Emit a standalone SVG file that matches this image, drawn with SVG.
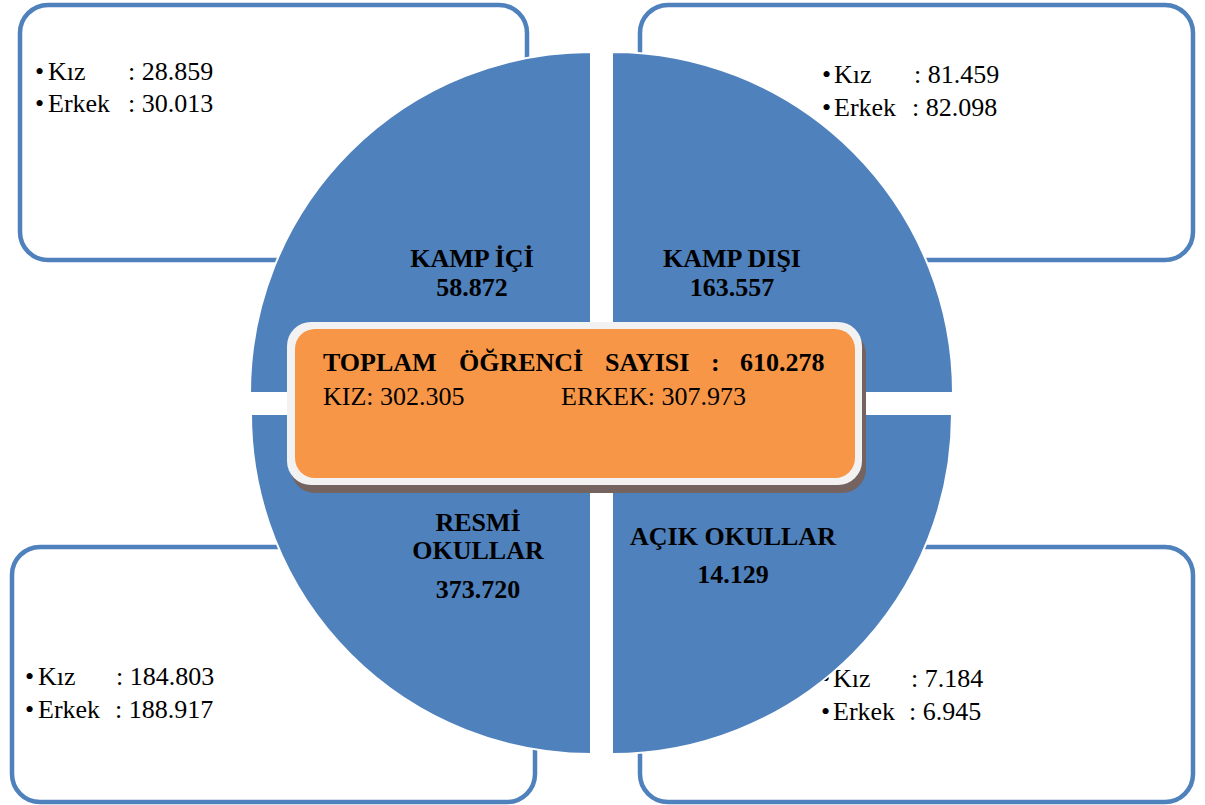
<svg xmlns="http://www.w3.org/2000/svg" width="1205" height="805" viewBox="0 0 1205 805">
<style>
.box{fill:#fff;stroke:#4F81BD;stroke-width:4.5}
.q{fill:#4F81BD;stroke:#fff;stroke-width:2}
.t{font-family:"Liberation Serif","Times New Roman",serif;font-size:26px;fill:#000}
.b{font-family:"Liberation Serif","Times New Roman",serif;font-size:26px;font-weight:bold;fill:#000;text-anchor:middle}
.c{font-family:"Liberation Serif","Times New Roman",serif;font-size:26px;fill:#000}
</style>
<rect width="1205" height="805" fill="#fff"/>
<g id="box-tl">
<rect class="box" x="20" y="5" width="507" height="255" rx="28"/>
<text class="t" y="80"><tspan x="35">•</tspan><tspan x="48">Kız</tspan><tspan x="128">: 28.859</tspan></text>
<text class="t" y="112"><tspan x="35">•</tspan><tspan x="48">Erkek</tspan><tspan x="128">: 30.013</tspan></text>
</g>
<g id="box-tr">
<rect class="box" x="640" y="5" width="553" height="255" rx="28"/>
<text class="t" y="83"><tspan x="822">•</tspan><tspan x="834">Kız</tspan><tspan x="914">: 81.459</tspan></text>
<text class="t" y="116"><tspan x="822">•</tspan><tspan x="834">Erkek</tspan><tspan x="912">: 82.098</tspan></text>
</g>
<g id="box-bl">
<rect class="box" x="12" y="547" width="523" height="255" rx="28"/>
<text class="t" y="685"><tspan x="25">•</tspan><tspan x="38">Kız</tspan><tspan x="116">: 184.803</tspan></text>
<text class="t" y="718"><tspan x="25">•</tspan><tspan x="38">Erkek</tspan><tspan x="115">: 188.917</tspan></text>
</g>
<g id="box-br">
<rect class="box" x="640" y="547" width="553" height="255" rx="28"/>
<text class="t" y="687"><tspan x="821">•</tspan><tspan x="833">Kız</tspan><tspan x="911">: 7.184</tspan></text>
<text class="t" y="720"><tspan x="821">•</tspan><tspan x="833">Erkek</tspan><tspan x="909">: 6.945</tspan></text>
</g>
<g id="q-kamp-ici">
<path class="q" d="M591,393 L250,393 A341,341 0 0 1 591,52 Z"/>
<text class="b" x="472" y="267">KAMP İÇİ</text>
<text class="b" x="472" y="296">58.872</text>
</g>
<g id="q-kamp-disi">
<path class="q" d="M612,393 L612,52 A341,341 0 0 1 953,393 Z"/>
<text class="b" x="732" y="267">KAMP DIŞI</text>
<text class="b" x="732" y="296">163.557</text>
</g>
<g id="q-resmi">
<path class="q" d="M591,414 L591,754 A340,340 0 0 1 251,414 Z"/>
<text class="b" x="478" y="531">RESMİ</text>
<text class="b" x="478" y="559">OKULLAR</text>
<text class="b" x="478" y="598">373.720</text>
</g>
<g id="q-acik">
<path class="q" d="M612,414 L952,414 A340,340 0 0 1 612,754 Z"/>
<text class="b" x="733" y="545">AÇIK OKULLAR</text>
<text class="b" x="733" y="583">14.129</text>
</g>
<g id="center">
<rect x="291" y="330" width="575" height="163" rx="24" fill="#74635F"/>
<rect x="287" y="322" width="575" height="163" rx="24" fill="#F2F2F2"/>
<rect x="295" y="329" width="560" height="149" rx="20" fill="#F79646"/>
<text class="c" y="371" font-weight="bold"><tspan x="323">TOPLAM</tspan><tspan x="459">ÖĞRENCİ</tspan><tspan x="605">SAYISI</tspan><tspan x="711">:</tspan><tspan x="740">610.278</tspan></text>
<text class="c" y="405"><tspan x="323">KIZ: 302.305</tspan><tspan x="561">ERKEK: 307.973</tspan></text>
</g>
<g id="connectors"></g>
</svg>
